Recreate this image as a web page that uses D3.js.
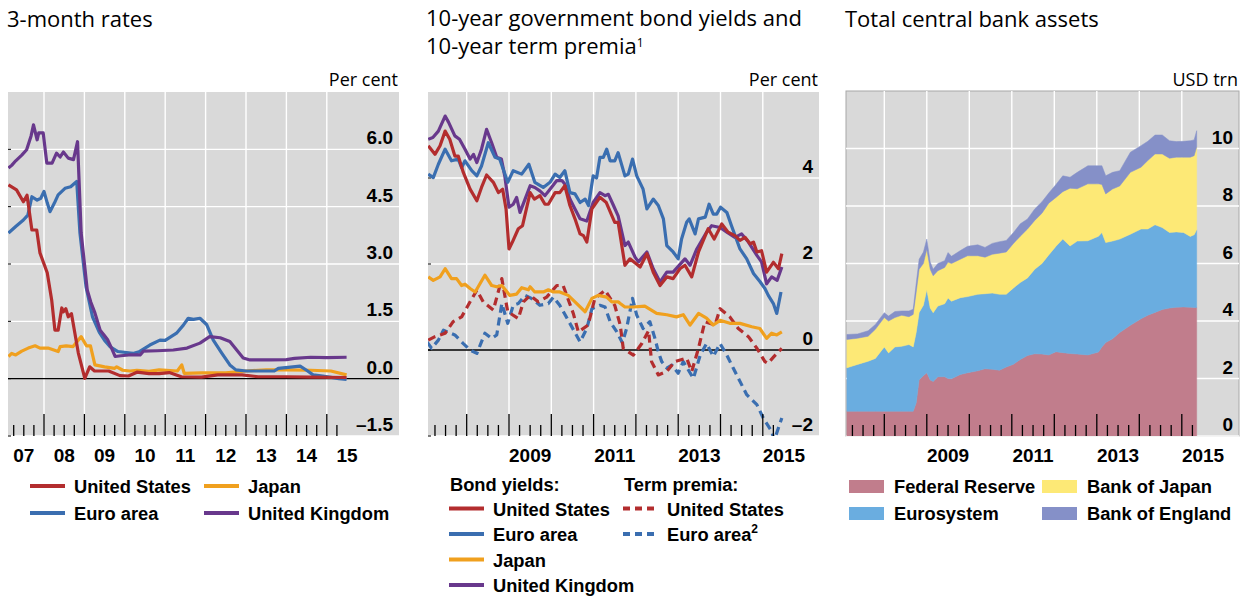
<!DOCTYPE html>
<html>
<head>
<meta charset="utf-8">
<script src="https://cdn.jsdelivr.net/npm/d3@7"></script>
<style>
  body { margin: 0; background: #fff; }
  svg text { font-family: "Liberation Sans", Arial, sans-serif; }
  svg text.title, svg text.unit { font-family: "Open Sans", "Noto Sans", sans-serif; }
</style>
</head>
<body>
<svg id="chart" width="1250" height="599"></svg>
<script>
// ---------- 3-month rates (per cent), [decimal year, value] ----------
const us3m = [[2007.12,5.07],[2007.32,4.94],[2007.49,4.63],[2007.58,4.8],[2007.7,3.89],[2007.82,3.89],[2007.9,3.29],[2008.08,2.77],[2008.19,2.06],[2008.27,1.27],[2008.35,1.27],[2008.44,1.85],[2008.48,1.75],[2008.54,1.83],[2008.6,1.62],[2008.68,1.7],[2008.85,0.67],[2009.01,0.01],[2009.13,0.31],[2009.25,0.2],[2009.6,0.2],[2009.88,0.08],[2010.09,0.07],[2010.3,0.17],[2010.6,0.13],[2010.85,0.13],[2011.1,0.16],[2011.4,0.05],[2011.9,0.04],[2012.3,0.1],[2012.9,0.1],[2013.3,0.05],[2014.0,0.05],[2014.6,0.04],[2015.49,0.03]];
const euro3m = [[2007.12,3.81],[2007.3,3.98],[2007.49,4.15],[2007.6,4.28],[2007.7,4.76],[2007.83,4.67],[2007.92,4.72],[2008.0,4.9],[2008.08,4.6],[2008.15,4.37],[2008.26,4.6],[2008.35,4.81],[2008.52,4.98],[2008.66,5.02],[2008.81,5.16],[2008.89,3.81],[2009.04,2.41],[2009.2,1.62],[2009.37,1.21],[2009.5,1.0],[2009.63,0.84],[2009.83,0.71],[2010.2,0.66],[2010.35,0.7],[2010.62,0.88],[2010.87,1.01],[2011.0,1.0],[2011.28,1.19],[2011.45,1.4],[2011.57,1.58],[2011.7,1.55],[2011.86,1.58],[2012.03,1.41],[2012.19,1.01],[2012.4,0.67],[2012.6,0.36],[2012.75,0.23],[2013.0,0.2],[2013.7,0.2],[2013.8,0.27],[2014.34,0.33],[2014.5,0.22],[2014.66,0.1],[2014.9,0.07],[2015.3,0.0],[2015.49,-0.02]];
const japan3m = [[2007.12,0.58],[2007.2,0.66],[2007.3,0.62],[2007.45,0.72],[2007.61,0.8],[2007.78,0.86],[2007.9,0.8],[2008.1,0.8],[2008.35,0.71],[2008.4,0.84],[2008.55,0.86],[2008.72,0.84],[2008.92,1.1],[2009.05,0.86],[2009.15,0.86],[2009.26,0.36],[2009.5,0.31],[2009.75,0.27],[2009.8,0.31],[2009.95,0.22],[2010.13,0.2],[2010.3,0.22],[2010.6,0.19],[2010.85,0.23],[2011.3,0.2],[2011.41,0.36],[2011.47,0.14],[2011.9,0.15],[2012.5,0.15],[2013.0,0.2],[2013.5,0.23],[2014.0,0.23],[2014.6,0.22],[2015.1,0.2],[2015.49,0.1]];
const uk3m = [[2007.12,5.51],[2007.2,5.58],[2007.3,5.7],[2007.45,5.85],[2007.57,5.99],[2007.68,6.35],[2007.74,6.64],[2007.83,6.25],[2007.87,6.43],[2007.98,6.43],[2008.07,5.64],[2008.2,5.64],[2008.31,5.9],[2008.4,5.8],[2008.48,5.93],[2008.6,5.77],[2008.73,5.73],[2008.83,6.2],[2008.92,3.81],[2009.07,2.32],[2009.16,2.0],[2009.26,1.72],[2009.39,1.27],[2009.48,1.15],[2009.58,1.01],[2009.68,0.78],[2009.76,0.58],[2009.9,0.6],[2010.1,0.62],[2010.38,0.62],[2010.46,0.72],[2010.8,0.73],[2011.2,0.75],[2011.54,0.8],[2011.86,0.93],[2012.1,1.1],[2012.36,1.07],[2012.6,0.97],[2012.77,0.75],[2012.93,0.54],[2013.1,0.49],[2013.6,0.49],[2014.0,0.5],[2014.2,0.53],[2014.6,0.56],[2015.0,0.55],[2015.49,0.56]];

// ---------- 10-year yields and term premia (per cent) ----------
const us10y = [[2007.09,4.75],[2007.25,4.55],[2007.37,4.75],[2007.49,5.09],[2007.6,4.9],[2007.72,4.51],[2007.8,4.51],[2007.92,4.13],[2008.08,3.74],[2008.24,3.47],[2008.35,3.78],[2008.47,4.07],[2008.63,3.9],[2008.75,3.66],[2008.85,3.74],[2008.93,3.28],[2009.0,2.35],[2009.08,2.51],[2009.22,2.82],[2009.32,2.89],[2009.5,3.66],[2009.6,3.51],[2009.73,3.59],[2009.85,3.39],[2009.93,3.39],[2010.09,3.66],[2010.2,3.66],[2010.32,3.82],[2010.44,3.36],[2010.56,3.05],[2010.68,2.7],[2010.76,2.66],[2010.84,2.51],[2010.96,3.28],[2011.15,3.55],[2011.3,3.43],[2011.5,2.97],[2011.58,2.97],[2011.74,1.97],[2011.86,2.12],[2012.1,1.93],[2012.26,2.24],[2012.41,1.81],[2012.57,1.5],[2012.73,1.7],[2012.88,1.66],[2013.04,1.89],[2013.16,1.97],[2013.32,1.7],[2013.48,2.28],[2013.71,2.82],[2013.85,2.58],[2014.03,2.93],[2014.18,2.74],[2014.34,2.66],[2014.46,2.55],[2014.58,2.62],[2014.7,2.47],[2014.78,2.51],[2014.86,2.28],[2014.97,2.31],[2015.09,1.81],[2015.25,2.04],[2015.37,1.89],[2015.45,2.24]];
const euro10y = [[2007.09,4.09],[2007.21,4.01],[2007.33,4.32],[2007.49,4.67],[2007.64,4.4],[2007.8,4.44],[2007.88,4.24],[2007.96,4.4],[2008.12,4.17],[2008.24,4.05],[2008.35,4.28],[2008.51,4.82],[2008.67,4.48],[2008.78,4.44],[2008.97,3.9],[2009.1,4.17],[2009.3,4.09],[2009.47,4.32],[2009.61,3.9],[2009.81,3.78],[2009.97,3.9],[2010.09,4.09],[2010.2,4.01],[2010.32,4.17],[2010.44,3.66],[2010.56,3.63],[2010.68,3.43],[2010.8,3.51],[2010.88,3.36],[2010.99,4.05],[2011.07,4.0],[2011.15,4.48],[2011.23,4.48],[2011.31,4.67],[2011.39,4.4],[2011.5,4.4],[2011.58,4.59],[2011.74,4.05],[2011.82,4.09],[2011.92,4.44],[2012.02,4.05],[2012.17,3.74],[2012.26,3.28],[2012.41,3.51],[2012.53,3.36],[2012.65,3.05],[2012.73,2.43],[2012.88,2.28],[2013.0,2.12],[2013.08,2.58],[2013.2,2.97],[2013.26,3.05],[2013.4,2.7],[2013.48,3.05],[2013.64,3.09],[2013.73,3.39],[2013.83,3.16],[2013.91,3.16],[2014.0,3.32],[2014.15,3.2],[2014.26,2.89],[2014.46,2.35],[2014.62,2.12],[2014.78,1.78],[2014.94,1.58],[2015.05,1.43],[2015.13,1.27],[2015.25,1.08],[2015.33,0.85],[2015.43,1.35]];
const japan10y = [[2007.09,1.7],[2007.21,1.62],[2007.37,1.7],[2007.49,1.89],[2007.64,1.66],[2007.76,1.66],[2007.88,1.5],[2007.96,1.53],[2008.08,1.43],[2008.2,1.35],[2008.43,1.74],[2008.59,1.5],[2008.71,1.47],[2008.83,1.5],[2009.02,1.27],[2009.18,1.3],[2009.3,1.45],[2009.46,1.4],[2009.5,1.47],[2009.61,1.35],[2009.81,1.35],[2009.93,1.4],[2010.05,1.35],[2010.2,1.35],[2010.4,1.27],[2010.56,1.12],[2010.8,0.89],[2010.96,1.2],[2011.11,1.27],[2011.31,1.23],[2011.43,1.12],[2011.58,1.12],[2011.63,1.08],[2011.74,1.0],[2011.94,1.0],[2012.21,1.02],[2012.49,0.85],[2012.73,0.82],[2012.96,0.77],[2013.12,0.82],[2013.28,0.58],[2013.48,0.85],[2013.67,0.74],[2013.83,0.58],[2013.99,0.69],[2014.22,0.62],[2014.46,0.62],[2014.74,0.54],[2014.93,0.5],[2015.09,0.27],[2015.21,0.39],[2015.33,0.35],[2015.45,0.42]];
const uk10y = [[2007.09,4.9],[2007.2,4.94],[2007.33,5.09],[2007.49,5.44],[2007.57,5.3],[2007.72,4.98],[2007.83,4.9],[2007.96,4.67],[2008.08,4.44],[2008.16,4.55],[2008.24,4.36],[2008.35,4.67],[2008.47,5.13],[2008.59,4.82],[2008.71,4.48],[2008.82,4.44],[2008.9,4.05],[2009.0,3.32],[2009.1,3.39],[2009.18,3.55],[2009.26,3.2],[2009.38,3.51],[2009.5,3.82],[2009.61,3.78],[2009.73,3.7],[2009.85,3.59],[2009.97,3.74],[2010.13,3.94],[2010.25,3.94],[2010.32,3.86],[2010.44,3.51],[2010.56,3.28],[2010.68,3.05],[2010.84,3.0],[2010.99,3.43],[2011.15,3.66],[2011.27,3.59],[2011.35,3.62],[2011.47,3.36],[2011.58,3.12],[2011.74,2.43],[2011.82,2.51],[2011.98,2.16],[2012.06,2.05],[2012.26,2.28],[2012.41,1.89],[2012.57,1.58],[2012.73,1.81],[2012.88,1.81],[2013.16,2.12],[2013.28,1.97],[2013.44,2.35],[2013.67,2.74],[2013.79,2.89],[2013.99,2.85],[2014.15,2.74],[2014.34,2.62],[2014.5,2.7],[2014.66,2.51],[2014.86,2.2],[2014.97,2.05],[2015.09,1.54],[2015.21,1.7],[2015.34,1.62],[2015.45,1.93]];
const usPremium = [[2007.09,0.23],[2007.25,0.31],[2007.49,0.39],[2007.68,0.66],[2007.88,0.77],[2008.08,1.12],[2008.24,1.39],[2008.39,1.12],[2008.63,0.93],[2008.83,1.66],[2008.97,0.89],[2009.22,0.73],[2009.34,1.12],[2009.5,1.27],[2009.69,1.12],[2009.89,1.23],[2010.13,1.5],[2010.28,1.5],[2010.52,0.85],[2010.64,0.42],[2010.87,0.58],[2011.03,1.2],[2011.27,1.39],[2011.5,1.04],[2011.63,0.58],[2011.7,0.04],[2011.94,-0.12],[2012.14,0.15],[2012.3,0.45],[2012.37,-0.27],[2012.53,-0.58],[2012.73,-0.5],[2012.92,-0.27],[2013.2,-0.19],[2013.32,-0.5],[2013.48,0.04],[2013.63,0.66],[2013.87,0.58],[2013.99,0.96],[2014.22,0.77],[2014.42,0.5],[2014.66,0.31],[2014.86,0.04],[2015.05,-0.27],[2015.12,-0.31],[2015.33,-0.08],[2015.45,0.04]];
const euroPremium = [[2007.06,0.19],[2007.17,0.04],[2007.33,0.23],[2007.45,0.46],[2007.72,0.35],[2007.92,0.15],[2008.08,0.0],[2008.24,-0.08],[2008.43,0.39],[2008.59,0.27],[2008.71,0.35],[2008.83,1.08],[2008.97,0.62],[2009.1,1.04],[2009.22,1.08],[2009.38,1.27],[2009.53,1.2],[2009.73,1.04],[2009.93,1.08],[2010.05,1.23],[2010.2,1.04],[2010.4,0.69],[2010.68,0.19],[2010.84,0.5],[2010.96,0.96],[2011.15,1.04],[2011.27,1.0],[2011.39,0.66],[2011.55,0.42],[2011.68,0.17],[2011.78,0.5],[2011.92,1.2],[2012.02,0.81],[2012.17,0.5],[2012.33,0.66],[2012.45,0.27],[2012.53,-0.04],[2012.61,-0.27],[2012.73,-0.42],[2012.85,-0.35],[2013.0,-0.54],[2013.12,-0.27],[2013.36,-0.66],[2013.52,-0.12],[2013.67,0.15],[2013.83,-0.15],[2013.99,0.15],[2014.15,-0.12],[2014.3,-0.42],[2014.46,-0.73],[2014.62,-1.04],[2014.86,-1.27],[2015.01,-1.58],[2015.21,-1.89],[2015.27,-2.1],[2015.45,-1.58]];

// ---------- Central bank assets (USD trn) ----------
const assetDates = [2007.12,2007.37,2007.62,2007.79,2008.0,2008.1,2008.25,2008.41,2008.58,2008.68,2008.75,2008.82,2008.92,2009.0,2009.08,2009.15,2009.26,2009.42,2009.5,2009.58,2009.79,2009.96,2010.2,2010.37,2010.54,2010.71,2010.87,2011.04,2011.2,2011.37,2011.54,2011.71,2011.87,2012.04,2012.2,2012.37,2012.54,2012.79,2013.04,2013.12,2013.21,2013.37,2013.54,2013.79,2014.04,2014.2,2014.37,2014.54,2014.71,2014.87,2015.04,2015.2,2015.29,2015.35];
const fedAssets = [0.86,0.86,0.86,0.86,0.86,0.86,0.86,0.86,0.86,0.86,1.15,1.96,2.1,2.2,1.95,1.9,2.06,2.06,2.0,1.99,2.14,2.2,2.27,2.34,2.32,2.29,2.4,2.5,2.66,2.8,2.86,2.85,2.82,2.93,2.9,2.87,2.85,2.82,2.92,3.1,3.25,3.38,3.6,3.85,4.08,4.2,4.3,4.4,4.45,4.48,4.49,4.48,4.47,4.47];
const eurosystemAssets = [1.51,1.63,1.74,1.84,2.24,2.03,2.24,2.26,2.32,2.24,2.45,2.34,2.45,2.9,2.5,2.39,2.46,2.54,2.8,2.7,2.67,2.65,2.66,2.61,2.65,2.64,2.53,2.65,2.68,2.7,2.94,3.15,3.48,3.67,3.95,3.74,3.93,3.97,4.03,3.98,3.48,3.4,3.25,3.17,3.12,3.0,3.05,2.85,2.63,2.62,2.59,2.46,2.53,2.7];
const bojAssets = [0.99,0.91,0.87,1.01,1.02,1.11,1.02,1.08,0.97,1.13,1.4,1.5,1.45,1.4,1.35,1.28,1.23,1.26,1.25,1.31,1.34,1.42,1.34,1.27,1.35,1.43,1.47,1.55,1.61,1.7,1.7,1.75,1.8,1.7,1.65,2.01,1.82,1.98,1.82,1.67,1.69,1.81,1.85,2.15,2.15,2.38,2.46,2.56,2.58,2.6,2.62,2.76,2.75,2.88];
const boeAssets = [0.17,0.15,0.19,0.17,0.17,0.17,0.21,0.15,0.2,0.18,0.3,0.35,0.4,0.35,0.25,0.23,0.25,0.24,0.33,0.25,0.3,0.33,0.38,0.34,0.38,0.4,0.4,0.38,0.43,0.35,0.4,0.4,0.35,0.45,0.55,0.38,0.57,0.63,0.63,0.65,0.63,0.58,0.53,0.7,0.75,0.67,0.66,0.66,0.61,0.54,0.55,0.57,0.55,0.57];

// ---------- axis labels ----------
const rateTicks = [-1.5, 0, 1.5, 3, 4.5, 6];
const rateTickLabels = ["\u20131.5", "0.0", "1.5", "3.0", "4.5", "6.0"];
const yieldTicks = [-2, 0, 2, 4];
const yieldTickLabels = ["\u20132", "0", "2", "4"];
const assetTicks = [0, 2, 4, 6, 8, 10];
const assetTickLabels = ["0", "2", "4", "6", "8", "10"];
const shortYears = [2007, 2008, 2009, 2010, 2011, 2012, 2013, 2014, 2015];
const shortYearLabels = ["07", "08", "09", "10", "11", "12", "13", "14", "15"];
const longYears = [2009, 2011, 2013, 2015];
const longYearLabels = ["2009", "2011", "2013", "2015"];

const C = {
  us: "#b32d2e", euro: "#3a6eb0", japan: "#f0a01e", uk: "#68388c",
  fed: "#c17d8c", eurosystem: "#6aade0", boj: "#fde976", boe: "#8590c8",
  bg: "#d9d9d9"
};

const svg = d3.select("#chart");
const gridYears = d3.range(2008, 2016);
const quarters = d3.range(2007.25, 2015.26, 0.25);

function frame(o) {
  const g = svg.append("g");
  g.append("rect").attr("x", o.L).attr("y", o.T).attr("width", o.R - o.L).attr("height", o.B - o.T)
    .attr("fill", C.bg).attr("stroke", o.border || "none").attr("stroke-width", 1);
  g.selectAll(".vg").data(gridYears).join("line")
    .attr("x1", d => o.x(d)).attr("x2", d => o.x(d)).attr("y1", o.T).attr("y2", o.B)
    .attr("stroke", "#fff").attr("stroke-width", 1.4);
  g.selectAll(".hg").data(o.ticks.filter(v => v !== 0 || !o.zero)).join("line")
    .attr("x1", o.L).attr("x2", o.R).attr("y1", d => o.y(d)).attr("y2", d => o.y(d))
    .attr("stroke", "#fff").attr("stroke-width", 1.4);
  if (o.leftTicks) {
    g.selectAll(".lt").data(o.ticks).join("line")
      .attr("x1", o.L).attr("x2", o.L + 3).attr("y1", d => o.y(d)).attr("y2", d => o.y(d))
      .attr("stroke", "#000").attr("stroke-width", 1);
  }
  if (o.zero) {
    g.append("line").attr("x1", o.L).attr("x2", o.R).attr("y1", o.y(0)).attr("y2", o.y(0))
      .attr("stroke", "#000").attr("stroke-width", 1.3);
  }
  const clipId = "clip" + o.id;
  svg.append("clipPath").attr("id", clipId).append("rect")
    .attr("x", o.L).attr("y", o.T).attr("width", o.R - o.L).attr("height", o.B - o.T);
  const data = svg.append("g").attr("clip-path", `url(#${clipId})`);
  return { g, data };
}

function decorate(o) {
  const g = svg.append("g");
  g.selectAll(".qt").data(quarters).join("line")
    .attr("x1", d => o.x(d)).attr("x2", d => o.x(d))
    .attr("y1", o.B).attr("y2", d => o.B - (Math.abs(d - Math.round(d)) < 1e-6 ? 22 : 11))
    .attr("stroke", "#000").attr("stroke-width", 1.3);
  g.selectAll(".yl").data(o.ticks).join("text")
    .attr("x", o.R - 6).attr("y", d => o.y(d) - 5)
    .attr("text-anchor", "end").attr("font-size", 19).attr("font-weight", "bold")
    .text((d, i) => o.tickLabels[i]);
  g.selectAll(".xl").data(o.years).join("text")
    .attr("x", d => o.x(d + 0.5)).attr("y", 462)
    .attr("text-anchor", "middle").attr("font-size", 19).attr("font-weight", "bold")
    .text((d, i) => o.yearLabels[i]);
  g.append("text").attr("class", "unit").attr("x", o.R - 1).attr("y", 86)
    .attr("text-anchor", "end").attr("font-size", 18).text(o.unit);
}

function drawLine(layer, series, o, color, dashed) {
  const line = d3.line().x(d => o.x(d[0])).y(d => o.y(d[1]));
  layer.append("path").datum(series).attr("d", line)
    .attr("fill", "none").attr("stroke", color).attr("stroke-width", 3.2)
    .attr("stroke-linejoin", "round")
    .attr("stroke-dasharray", dashed ? "8,5" : null);
}

// ---------- Panel 1: 3-month rates ----------
const p1 = { id: 1, L: 8, R: 399, T: 92, B: 436, zero: true, leftTicks: true,
  x: d3.scaleLinear().domain([2007, 2017]).range([3.6, 407.6]),
  y: d3.scaleLinear().domain([-1.5, 7.5]).range([436, 92]),
  ticks: rateTicks, tickLabels: rateTickLabels, years: shortYears, yearLabels: shortYearLabels, unit: "Per cent" };
const f1 = frame(p1);
drawLine(f1.data, japan3m, p1, C.japan);
drawLine(f1.data, euro3m, p1, C.euro);
drawLine(f1.data, uk3m, p1, C.uk);
drawLine(f1.data, us3m, p1, C.us);
decorate(p1);

// ---------- Panel 2: 10-year yields and term premia ----------
const p2 = { id: 2, L: 428, R: 819, T: 92, B: 436, zero: true, leftTicks: true,
  x: d3.scaleLinear().domain([2007, 2017]).range([424.4, 847.4]),
  y: d3.scaleLinear().domain([-2, 6]).range([436, 92]),
  ticks: yieldTicks, tickLabels: yieldTickLabels, years: longYears, yearLabels: longYearLabels, unit: "Per cent" };
const f2 = frame(p2);
drawLine(f2.data, euroPremium, p2, C.euro, true);
drawLine(f2.data, usPremium, p2, C.us, true);
drawLine(f2.data, japan10y, p2, C.japan);
drawLine(f2.data, uk10y, p2, C.uk);
drawLine(f2.data, euro10y, p2, C.euro);
drawLine(f2.data, us10y, p2, C.us);
decorate(p2);

// ---------- Panel 3: total central bank assets (stacked) ----------
const p3 = { id: 3, L: 846, R: 1239, T: 91, B: 436, zero: false, leftTicks: false, border: "#a8a8a8",
  x: d3.scaleLinear().domain([2007, 2017]).range([841.8, 1266.8]),
  y: d3.scaleLinear().domain([0, 12]).range([436, 91]),
  ticks: assetTicks, tickLabels: assetTickLabels, years: longYears, yearLabels: longYearLabels, unit: "USD trn" };
const f3 = frame(p3);
const assetRows = assetDates.map((t, i) => ({ t, fed: fedAssets[i], eurosystem: eurosystemAssets[i], boj: bojAssets[i], boe: boeAssets[i] }));
const stackKeys = ["fed", "eurosystem", "boj", "boe"];
const layers = d3.stack().keys(stackKeys)(assetRows);
const area = d3.area().x(d => p3.x(d.data.t)).y0(d => p3.y(d[0])).y1(d => p3.y(d[1]));
f3.data.selectAll(".layer").data(layers).join("path")
  .attr("d", area).attr("fill", d => C[d.key]).attr("stroke", d => C[d.key]).attr("stroke-width", 0.5);
decorate(p3);

// ---------- Titles ----------
function title(x, y, txt, sup) {
  const t = svg.append("text").attr("class", "title").attr("x", x).attr("y", y).attr("font-size", 22).text(txt);
  if (sup) t.append("tspan").attr("font-size", 12).attr("dy", -7).text(sup);
}
title(7, 27, "3-month rates");
title(426, 26, "10-year government bond yields and");
title(426, 54, "10-year term premia", "1");
title(845, 27, "Total central bank assets");

// ---------- Legends ----------
function legendLine(x, y, color, label, dashed, sup) {
  svg.append("line").attr("x1", x).attr("x2", x + 35).attr("y1", y - 7).attr("y2", y - 7)
    .attr("stroke", color).attr("stroke-width", 4).attr("stroke-dasharray", dashed ? "7,5" : null);
  const t = svg.append("text").attr("x", x + 44).attr("y", y).attr("font-size", 18.3).attr("font-weight", "bold").text(label);
  if (sup) t.append("tspan").attr("font-size", 12).attr("dy", -8).text(sup);
}
function legendBox(x, y, color, label) {
  svg.append("rect").attr("x", x).attr("y", y - 13).attr("width", 35).attr("height", 13).attr("fill", color);
  svg.append("text").attr("x", x + 45).attr("y", y).attr("font-size", 18.3).attr("font-weight", "bold").text(label);
}
function legendText(x, y, label) {
  svg.append("text").attr("x", x).attr("y", y).attr("font-size", 18.3).attr("font-weight", "bold").text(label);
}

legendLine(30, 493, C.us, "United States");
legendLine(204, 493, C.japan, "Japan");
legendLine(30, 520, C.euro, "Euro area");
legendLine(204, 520, C.uk, "United Kingdom");

legendText(450, 491, "Bond yields:");
legendText(624, 491, "Term premia:");
legendLine(449, 515.5, C.us, "United States");
legendLine(449, 541, C.euro, "Euro area");
legendLine(449, 566.5, C.japan, "Japan");
legendLine(449, 592, C.uk, "United Kingdom");
legendLine(623, 515.5, C.us, "United States", true);
legendLine(623, 541, C.euro, "Euro area", true, "2");

legendBox(849, 493, C.fed, "Federal Reserve");
legendBox(1042, 493, C.boj, "Bank of Japan");
legendBox(849, 520, C.eurosystem, "Eurosystem");
legendBox(1042, 520, C.boe, "Bank of England");
</script>
</body>
</html>
